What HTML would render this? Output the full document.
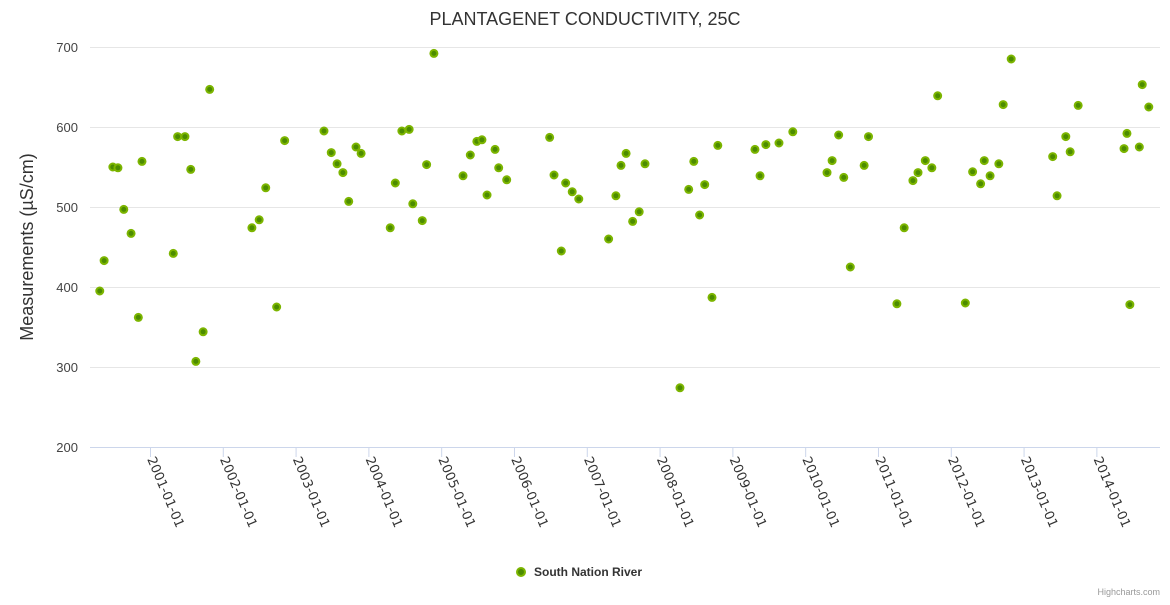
<!DOCTYPE html>
<html><head><meta charset="utf-8"><style>
body{margin:0;background:#fff;font-family:"Liberation Sans",sans-serif}
svg text{font-family:"Liberation Sans",sans-serif}
</style></head><body>
<svg id="c" width="1170" height="600">
<text x="585" y="25" text-anchor="middle" font-size="18" fill="#333">PLANTAGENET CONDUCTIVITY, 25C</text>
<text transform="translate(33,247) rotate(-90)" text-anchor="middle" font-size="18" fill="#333">Measurements (µS/cm)</text>
<g id="grid"></g><g id="xaxis"></g><g id="pts"></g>
<g>
<circle cx="521" cy="572" r="4" fill="#4c8c00" stroke="#7cb500" stroke-width="2"/>
<text x="534" y="576" font-size="12" font-weight="bold" fill="#333">South Nation River</text>
</g>
<text x="1160" y="595" text-anchor="end" font-size="9" fill="#999">Highcharts.com</text>
</svg>
<script>
const years=[2000.31,2000.37,2000.49,2000.56,2000.64,2000.74,2000.84,2000.89,2001.32,2001.38,2001.48,2001.56,2001.63,2001.73,2001.82,2002.40,2002.50,2002.59,2002.74,2002.85,2003.39,2003.49,2003.57,2003.65,2003.73,2003.83,2003.90,2004.30,2004.37,2004.46,2004.56,2004.61,2004.74,2004.80,2004.90,
2005.30,2005.40,2005.49,2005.56,2005.63,2005.74,2005.79,2005.90,2006.49,2006.55,2006.65,2006.71,2006.80,2006.89,2007.30,2007.40,2007.47,2007.54,2007.63,2007.72,2007.80,2008.28,2008.40,2008.47,2008.55,2008.62,2008.72,2008.80,2009.31,2009.38,2009.46,2009.64,2009.83,
2010.30,2010.37,2010.46,2010.53,2010.62,2010.81,2010.87,2011.26,2011.36,2011.48,2011.55,2011.65,2011.74,2011.82,2012.20,2012.30,2012.41,2012.46,2012.54,2012.66,2012.72,2012.83,2013.40,2013.46,2013.58,2013.64,2013.75,2014.38,2014.42,2014.46,2014.59,2014.63,2014.72];
const values=[395,433,550,549,497,467,362,557,442,588,588,547,307,344,647,474,484,524,375,583,595,568,554,543,507,575,567,474,530,595,597,504,483,553,692,
539,565,582,584,515,572,549,534,587,540,445,530,519,510,460,514,552,567,482,494,554,274,522,557,490,528,387,577,572,539,578,580,594,
543,558,590,537,425,552,588,379,474,533,543,558,549,639,380,544,529,558,539,554,628,685,563,514,588,569,627,573,592,378,575,653,625];
const yTicks=[200,300,400,500,600,700];
const xTickLabels=["2001-01-01","2002-01-01","2003-01-01","2004-01-01","2005-01-01","2006-01-01","2007-01-01","2008-01-01","2009-01-01","2010-01-01","2011-01-01","2012-01-01","2013-01-01","2014-01-01"];
const NS="http://www.w3.org/2000/svg";
const L=90,R=1160,T=47,B=447,xMin=2000.176,xMax=2014.874,yMin=200,yMax=700;
const xs=v=>L+(v-xMin)/(xMax-xMin)*(R-L);
const ys=v=>B-(v-yMin)/(yMax-yMin)*(B-T);
function mk(t,a,p){const e=document.createElementNS(NS,t);for(const k in a)e.setAttribute(k,a[k]);p.appendChild(e);return e;}
const grid=document.getElementById('grid');
yTicks.forEach(v=>{
 const ln=mk('line',{x1:L,x2:R,y1:ys(v)+0.5,y2:ys(v)+0.5,stroke:v===200?'#ccd6eb':'#e6e6e6'},grid);
 
 
 const t=mk('text',{x:78,y:ys(v)+5,'text-anchor':'end','font-size':13,fill:'#444'},grid);
 t.textContent=v;
 
 
});
const xa=document.getElementById('xaxis');
xTickLabels.forEach(s=>{
 const yr=parseInt(s);const x=xs(yr);
 const tk=mk('line',{x1:x+0.5,x2:x+0.5,y1:B,y2:B+10,stroke:'#ccd6eb'},xa);
 
 
 const t=mk('text',{x:x-3,y:B+12,'font-size':13,fill:'#333',style:'font-family:"DejaVu Sans",sans-serif',transform:`rotate(67 ${x-3} ${B+12})`},xa);
 t.textContent=s;
 
 
});
const pts=document.getElementById('pts');
years.forEach((yr,i)=>{
 const c=mk('circle',{cx:xs(yr),cy:ys(values[i]),r:3.5,fill:'#4c8c00',stroke:'#7cb500','stroke-width':2},pts);
 
 
});
</script>
</body></html>
